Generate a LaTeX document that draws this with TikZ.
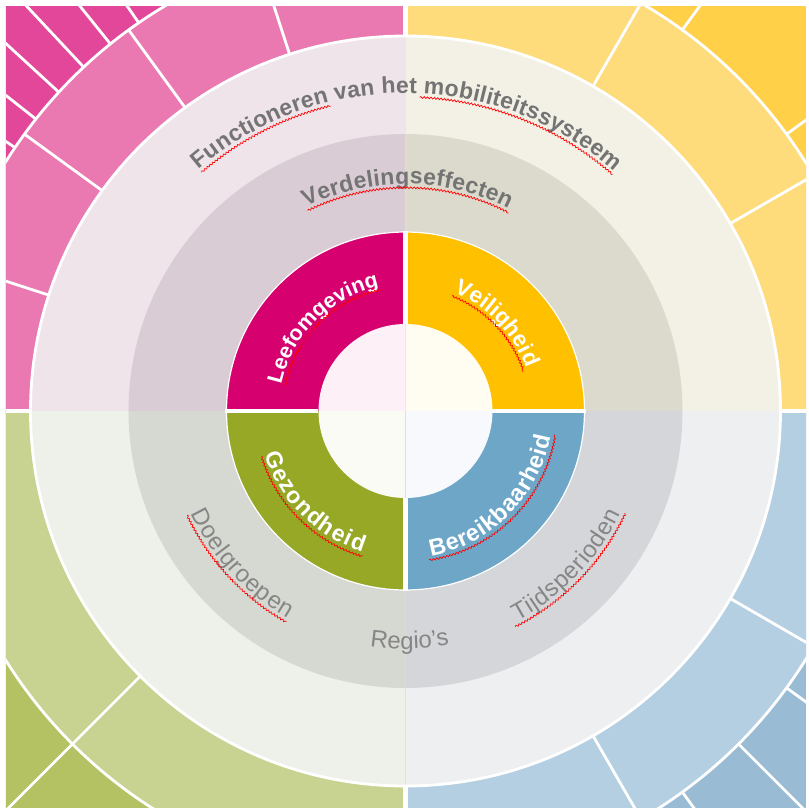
\documentclass[tikz,border=0pt]{standalone}
\usepackage{fontspec}
\setmainfont{Liberation Sans}
\usepackage{xcolor}
\usetikzlibrary{decorations.text,decorations.pathmorphing}

% quadrant colours (dark outer, mid outer, light ring, grey ring, main, centre)
\definecolor{pinkDark}{HTML}{E2479A}
\definecolor{pinkMid}{HTML}{EA78B1}
\definecolor{pinkLight}{HTML}{F0E4EB}
\definecolor{pinkGrey}{HTML}{D9CCD5}
\definecolor{pinkMain}{HTML}{D6006F}
\definecolor{pinkCenter}{HTML}{FDF0F6}
\definecolor{yellowDark}{HTML}{FFD048}
\definecolor{yellowMid}{HTML}{FEDB7B}
\definecolor{yellowLight}{HTML}{F3F1E6}
\definecolor{yellowGrey}{HTML}{DCD9CD}
\definecolor{yellowMain}{HTML}{FFC000}
\definecolor{yellowCenter}{HTML}{FFFDF1}
\definecolor{greenDark}{HTML}{B4C264}
\definecolor{greenMid}{HTML}{C9D391}
\definecolor{greenLight}{HTML}{EEF0EA}
\definecolor{greenGrey}{HTML}{D6D8D2}
\definecolor{greenMain}{HTML}{97A827}
\definecolor{greenCenter}{HTML}{FAFBF5}
\definecolor{blueDark}{HTML}{99BCD4}
\definecolor{blueMid}{HTML}{B4CFE2}
\definecolor{blueLight}{HTML}{EEEFF1}
\definecolor{blueGrey}{HTML}{D5D6D9}
\definecolor{blueMain}{HTML}{6EA6C8}
\definecolor{blueCenter}{HTML}{F7F9FC}
\definecolor{lblgrey}{HTML}{747474}
\definecolor{lblgreylight}{HTML}{868686}

\newcommand{\toplbl}{\fontsize{23}{23}\selectfont\bfseries}
\newcommand{\botlbl}{\fontsize{24}{24}\selectfont}
\newcommand{\inlbl}[1]{\fontsize{#1}{#1}\selectfont\bfseries}

\tikzset{
  sep/.style={white, line width=2.8pt},
  squiggle/.style={red, line width=0.7pt, decorate,
    decoration={snake, amplitude=0.9pt, segment length=3.4pt}},
  arclabel/.style 2 args={decorate,
    decoration={text along path, text color=#1, text={#2}, text align=fit to path}},
}

\begin{document}
\begin{tikzpicture}[x=1pt,y=1pt]
    \useasboundingbox (-405.5,-396) rectangle (403.5,411);
    \fill[white] (-405.5,-396) rectangle (403.5,411);

    \begin{scope}
    \clip (-399.5,-396) rectangle (400.5,405);
    % Quadrants with their rings
    \foreach \q/\a in {pink/90, yellow/0, green/180, blue/270} {
        \begin{scope}
            \clip (0,0) rectangle (\a+45:700);
            \fill[\q Dark] (-400,-400) rectangle (400,405);
            \fill[\q Mid] (0,0) circle[radius=471];
            \fill[\q Light] (0,0) circle[radius=375];
            \fill[\q Grey] (0,0) circle[radius=277];
            \fill[\q Main] (0,0) circle[radius=179];
            \fill[\q Center] (0,0) circle[radius=87];
        \end{scope}
    }

    % Outer separators
    \draw[sep] (0,0) circle[radius=471];
    \draw[sep] (0,0) circle[radius=375];
    \foreach \t in {0,90,180,270}
        \draw[sep, line width=4.5pt] (\t:375) -- (\t:700);
    \foreach \t in {108,126,144,162,30,60,225,300,330}
        \draw[sep] (\t:375) -- (\t:471);
    \foreach \t in {124.5,128.8,133.1,137.4,141.7,146,36,54,225,306,315,324}
        \draw[sep] (\t:471) -- (\t:700);
    \end{scope}

    % Inner coloured ring
    \draw[white, line width=1.2pt] (0,0) circle[radius=179];
    \foreach \t in {0,90,180,270}
        \draw[white, line width=4.5pt] (\t:87) -- (\t:180);

    % Labels outer rings
    \path[arclabel={lblgrey}{|\toplbl|Functioneren van het mobiliteitssysteem}]
        (130.5:318) arc[start angle=130.5, end angle=49, radius=318];
    \path[arclabel={lblgrey}{|\toplbl|Verdelingseffecten}]
        (116:227) arc[start angle=116, end angle=63, radius=227];
    \path[arclabel={lblgreylight}{|\botlbl|Doelgroepen}]
        (205.5:238) arc[start angle=205.5, end angle=240.5, radius=238];
    \path[arclabel={lblgreylight}{|\botlbl|Regio’s}]
        (261.4:238) arc[start angle=261.4, end angle=280.5, radius=238];
    \path[arclabel={lblgreylight}{|\botlbl|Tijdsperioden}]
        (298:238) arc[start angle=298, end angle=334.5, radius=238];

    % Labels inner ring
    \path[arclabel={white}{|\inlbl{21.5}|Leefomgeving}]
        (168:127) arc[start angle=168, end angle=102, radius=127];
    \path[arclabel={white}{|\inlbl{22.5}|Veiligheid}]
        (68:128) arc[start angle=68, end angle=19.5, radius=128];
    \path[arclabel={white}{|\inlbl{23}|Gezondheid}]
        (197:147) arc[start angle=197, end angle=253, radius=147];
    \path[arclabel={white}{|\inlbl{23.5}|Bereikbaarheid}]
        (280:147) arc[start angle=280, end angle=350, radius=147];

    % Spelling marks
    \draw[squiggle] (130.5:314) arc[start angle=130.5, end angle=103.8, radius=314];
    \draw[squiggle] (87.4:314) arc[start angle=87.4, end angle=48.8, radius=314];
    \draw[squiggle] (116:223) arc[start angle=116, end angle=62.5, radius=223];
    \draw[squiggle] (205.5:242) arc[start angle=205.5, end angle=240.5, radius=242];
    \draw[squiggle] (297:242) arc[start angle=297, end angle=335, radius=242];
    \draw[squiggle] (168:123) arc[start angle=168, end angle=101.5, radius=123];
    \draw[squiggle] (68:124) arc[start angle=68, end angle=18.5, radius=124];
    \draw[squiggle] (197.5:151) arc[start angle=197.5, end angle=253.5, radius=151];
    \draw[squiggle] (279:151) arc[start angle=279, end angle=351, radius=151];
\end{tikzpicture}
\end{document}
